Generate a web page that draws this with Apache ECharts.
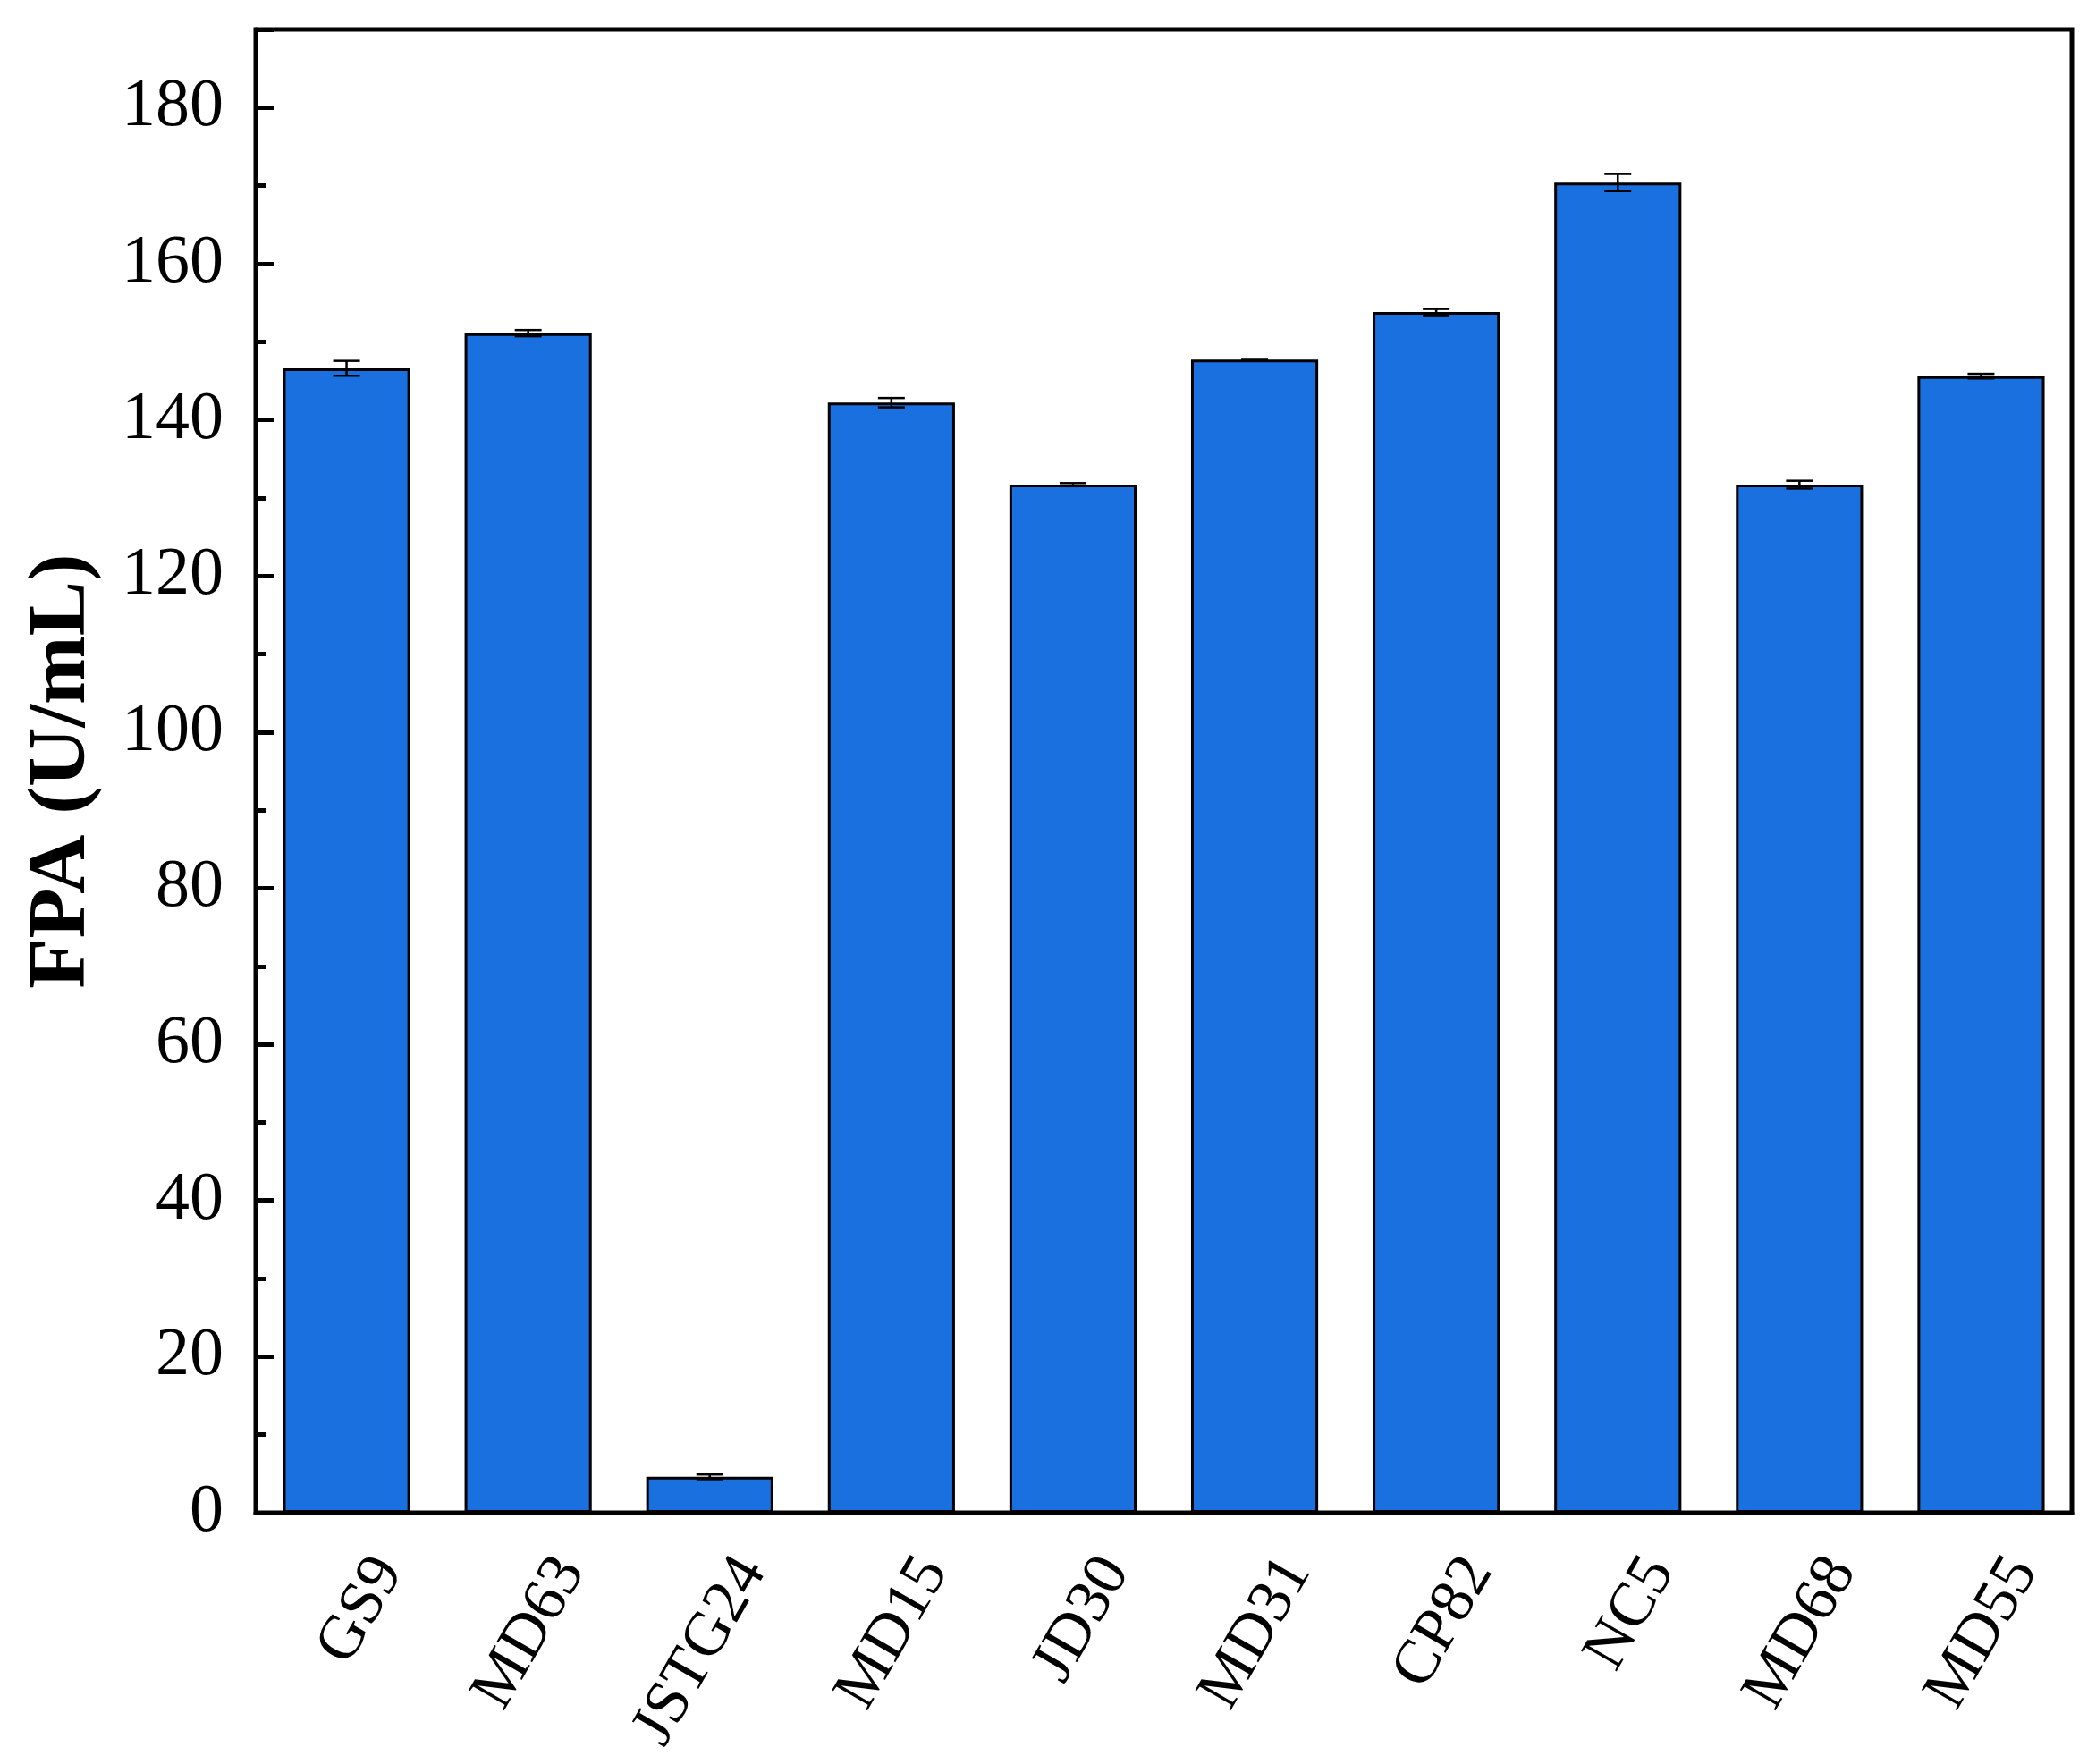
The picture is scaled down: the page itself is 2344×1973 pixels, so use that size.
<!DOCTYPE html>
<html>
<head>
<meta charset="utf-8">
<script src="https://cdn.jsdelivr.net/npm/echarts@6/dist/echarts.min.js"></script>
<style>
html,body{margin:0;padding:0;background:#fff;}
#chart{width:2344px;height:1973px;}
</style>
</head>
<body>
<div id="chart"></div>
<script>
const categories = ['GS9','MD63','JSTG24','MD15','JD30','MD31','CP82','NC5','MD68','MD55'];
const fpaValues = [146.6, 151.1, 4.6, 142.2, 131.7, 147.7, 153.8, 170.4, 131.7, 145.6];
const fpaErrors = [0.95, 0.4, 0.3, 0.6, 0.2, 0.1, 0.4, 1.1, 0.5, 0.3];
const yTicks = [0, 20, 40, 60, 80, 100, 120, 140, 160, 180];

const FONT = '"Liberation Serif", "Times New Roman", Times, serif';
const chart = echarts.init(document.getElementById('chart'));

const errData = categories.map((c, i) => [i, fpaValues[i] - fpaErrors[i], fpaValues[i] + fpaErrors[i]]);

chart.setOption({
  animation: false,
  backgroundColor: '#ffffff',
  grid: {left: 286, right: 27, top: 33, bottom: 281, containLabel: false, outerBoundsMode: 'none',
         show: true, borderColor: '#000', borderWidth: 5, backgroundColor: 'transparent'},
  xAxis: {
    type: 'category',
    data: categories,
    axisLine: {lineStyle: {color: '#000', width: 5}},
    axisTick: {show: false},
    axisLabel: {
      rotate: 60, margin: 28, color: '#000', fontFamily: FONT, fontSize: 70,
      verticalAlign: 'top', padding: [20, 0, 0, 0], hideOverlap: false
    }
  },
  yAxis: [{
    type: 'value', min: 0, max: 190, interval: 10,
    axisLine: {show: false},
    axisTick: {show: true, inside: true, length: 11, lineStyle: {color: '#000', width: 5}},
    axisLabel: {show: false},
    splitLine: {show: false}
  }, {
    type: 'value', min: 0, max: 190, interval: 20, position: 'left',
    name: 'FPA (U/mL)', nameLocation: 'middle', nameGap: 170,
    nameTextStyle: {fontFamily: FONT, fontSize: 92, fontWeight: 'bold', color: '#000'},
    axisLine: {show: true, lineStyle: {color: '#000', width: 5}},
    axisTick: {show: true, inside: true, length: 20, lineStyle: {color: '#000', width: 5}},
    axisLabel: {
      margin: 36, color: '#000', fontFamily: FONT, fontSize: 76,
      formatter: v => (yTicks.indexOf(v) >= 0 ? String(v) : '')
    },
    splitLine: {show: false}
  }],
  series: [{
    type: 'bar',
    yAxisIndex: 0,
    data: fpaValues,
    barCategoryGap: '30%',
    itemStyle: {color: '#1a70df', borderColor: '#000', borderWidth: 3}
  }, {
    type: 'custom',
    yAxisIndex: 0,
    data: errData,
    z: 10,
    renderItem: function (params, api) {
      const x = api.value(0);
      const lo = api.coord([x, api.value(1)]);
      const hi = api.coord([x, api.value(2)]);
      const half = 15;
      const st = {stroke: '#000', lineWidth: 2.5};
      return {
        type: 'group',
        children: [
          {type: 'line', shape: {x1: lo[0], y1: lo[1], x2: hi[0], y2: hi[1]}, style: st},
          {type: 'line', shape: {x1: hi[0] - half, y1: hi[1], x2: hi[0] + half, y2: hi[1]}, style: st},
          {type: 'line', shape: {x1: lo[0] - half, y1: lo[1], x2: lo[0] + half, y2: lo[1]}, style: st}
        ]
      };
    }
  }]
});
</script>
</body>
</html>
